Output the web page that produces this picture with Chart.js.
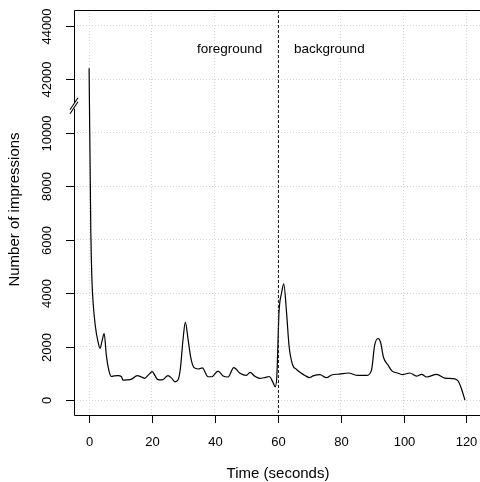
<!DOCTYPE html>
<html>
<head>
<meta charset="utf-8">
<title>Impressions over time</title>
<script src="https://cdn.jsdelivr.net/npm/chart.js@4/dist/chart.umd.min.js"></script>
<style>
    html, body { margin: 0; padding: 0; background: #fff; }
    #wrap { width: 480px; height: 482px; }
</style>
</head>
<body>
<div id="wrap"><canvas id="myChart" width="480" height="482"></canvas></div>
<script>
// time in seconds
const seconds = [
    0, 0.55, 0.9, 1.3, 2.0, 2.8, 3.5, 4.1, 4.8, 5.5, 6.3, 7.1, 8.0, 9.2, 10.3, 10.8,
    12.0, 13.5, 15.3, 16.7, 17.7, 18.8, 20.1, 21.0, 21.9, 23.2, 25.1, 26.2, 27.3, 28.3,
    29.0, 29.9, 30.6, 31.5, 32.3, 33.3, 34.7, 36.0, 37.8, 39.0, 41.0, 42.6, 44.2, 46.0,
    48.0, 50.0, 51.2, 52.7, 54.3, 55.9, 57.3, 58.4, 59.2, 59.7, 60.4, 61.2, 61.9, 62.8,
    63.6, 64.7, 65.9, 67.5, 68.6, 70.1, 71.2, 73.4, 75.5, 77.1, 79.7, 82.4, 85.5, 88.2,
    89.8, 90.8, 91.9, 92.7, 93.6, 95.1, 96.2, 98.3, 99.8, 102.0, 104.1, 105.7, 107.4,
    110.5, 113.1, 116.3, 117.4, 118.4, 119.5
];
// number of impressions at those times
const impressions = [
    42400, 6300, 4500, 3600, 2750, 2200, 1930, 2200, 2480, 1650, 1100, 880, 900, 910, 870, 740,
    750, 780, 910, 860, 810, 930, 1060, 900, 760, 750, 910, 820, 680, 760,
    1150, 2300, 2900, 2250, 1600, 1220, 1160, 1200, 870, 870, 1080, 900, 860, 1210,
    1000, 920, 1030, 890, 810, 840, 880, 680, 500, 900, 3300, 4000, 4340, 3250,
    2000, 1320, 1150, 1000, 920, 840, 900, 950, 835, 935, 970, 1010, 920, 920,
    1120, 2050, 2300, 2150, 1600, 1300, 1100, 1000, 950, 1010, 890, 960, 860,
    960, 820, 790, 700, 420, 0
];
const xTicks = [0, 20, 40, 60, 80, 100, 120];
const yTicks = [0, 2000, 4000, 6000, 8000, 10000, 42000, 44000];
const switchTime = 60;
const phaseLabels = ["foreground", "background"];
const phaseLabelX = [44.7, 76.4];
const phaseLabelY = 43100;

// the y axis is broken between 10000 and 42000
const BREAK_OFFSET = 30000;
function toAxis(v) {
    return v > 10000 ? v - BREAK_OFFSET : v;
}

document.addEventListener("DOMContentLoaded", function() {
    const FONT = '"Liberation Sans", Arial, Helvetica, sans-serif';

    const points = seconds.map((t, i) => ({ x: t, y: toAxis(impressions[i]) }));

    // R-style axes, box, break marks and labels
    const basePlot = {
        id: 'basePlot',
        afterDatasetsDraw(chart) {
            const ctx = chart.ctx;
            const area = chart.chartArea;
            const xs = chart.scales.x;
            const ys = chart.scales.y;
            ctx.save();

            // dashed line where the app goes to background
            const sx = Math.round(xs.getPixelForValue(switchTime)) + 0.5;
            ctx.strokeStyle = '#222';
            ctx.lineWidth = 1;
            ctx.setLineDash([3, 2]);
            ctx.beginPath();
            ctx.moveTo(sx, area.top);
            ctx.lineTo(sx, area.bottom);
            ctx.stroke();
            ctx.setLineDash([]);

            // box (right edge sits just outside the canvas)
            ctx.strokeStyle = '#000';
            ctx.beginPath();
            ctx.moveTo(area.right + 2, area.top + 0.5);
            ctx.lineTo(area.left + 0.5, area.top + 0.5);
            ctx.lineTo(area.left + 0.5, area.bottom + 0.5);
            ctx.lineTo(area.right + 2, area.bottom + 0.5);
            ctx.stroke();

            // axis break "//"
            const by = ys.getPixelForValue(11000);
            ctx.fillStyle = '#fff';
            ctx.fillRect(area.left - 1, by - 3, 3, 6);
            ctx.lineWidth = 1.1;
            ctx.beginPath();
            ctx.moveTo(area.left - 4, by + 4);
            ctx.lineTo(area.left + 4, by - 8);
            ctx.moveTo(area.left - 4, by + 8);
            ctx.lineTo(area.left + 4, by - 4);
            ctx.stroke();
            ctx.lineWidth = 1;

            ctx.fillStyle = '#000';
            ctx.font = '13px ' + FONT;

            // x ticks
            ctx.textAlign = 'center';
            ctx.textBaseline = 'middle';
            xTicks.forEach(v => {
                const px = Math.round(xs.getPixelForValue(v)) + 0.5;
                ctx.beginPath();
                ctx.moveTo(px, area.bottom);
                ctx.lineTo(px, area.bottom + 8);
                ctx.stroke();
                ctx.fillText(String(v), px, area.bottom + 27);
            });

            // y ticks, labels turned like R's las=0
            yTicks.forEach(v => {
                const py = Math.round(ys.getPixelForValue(toAxis(v))) + 0.5;
                ctx.beginPath();
                ctx.moveTo(area.left - 8, py);
                ctx.lineTo(area.left, py);
                ctx.stroke();
                ctx.save();
                ctx.translate(area.left - 27, py);
                ctx.rotate(-Math.PI / 2);
                ctx.fillText(String(v), 0, 0);
                ctx.restore();
            });

            // axis titles
            ctx.font = '15px ' + FONT;
            ctx.fillText('Time (seconds)', 278, area.bottom + 59);
            ctx.save();
            ctx.translate(15, 209.5);
            ctx.rotate(-Math.PI / 2);
            ctx.fillText('Number of impressions', 0, 0);
            ctx.restore();

            // phase labels
            ctx.font = '13.5px ' + FONT;
            phaseLabels.forEach((label, i) => {
                ctx.fillText(label, xs.getPixelForValue(phaseLabelX[i]), ys.getPixelForValue(toAxis(phaseLabelY)));
            });

            ctx.restore();
        }
    };

    const ctx = document.getElementById('myChart').getContext('2d');
    const myChart = new Chart(ctx, {
        type: 'line',
        data: {
            datasets: [{
                label: 'Impressions',
                data: points,
                borderColor: '#000',
                borderWidth: 1.2,
                pointRadius: 0,
                fill: false,
                cubicInterpolationMode: 'monotone'
            }]
        },
        options: {
            responsive: false,
            animation: false,
            layout: {
                padding: { left: 74, top: 10, right: 0, bottom: 67 }
            },
            scales: {
                x: {
                    type: 'linear',
                    min: -4.8,
                    max: 124.3,
                    afterBuildTicks: function(scale) {
                        scale.ticks = xTicks.map(v => ({ value: v }));
                    },
                    ticks: { display: false },
                    grid: { color: '#d3d3d3', drawTicks: false },
                    border: { display: false, dash: [1, 2] }
                },
                y: {
                    type: 'linear',
                    min: -560,
                    max: 14580,
                    afterBuildTicks: function(scale) {
                        scale.ticks = yTicks.map(v => ({ value: toAxis(v) }));
                    },
                    ticks: { display: false },
                    grid: { color: '#d3d3d3', drawTicks: false },
                    border: { display: false, dash: [1, 2] }
                }
            },
            plugins: {
                legend: { display: false },
                tooltip: { enabled: false }
            }
        },
        plugins: [basePlot]
    });
});
</script>
</body>
</html>
